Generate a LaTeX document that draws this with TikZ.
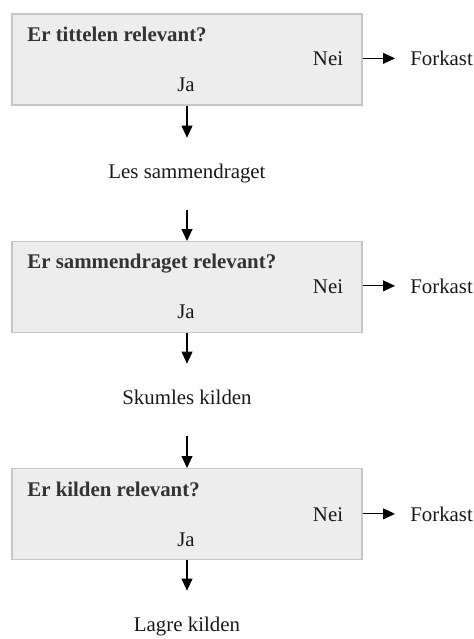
\documentclass[tikz,border=0pt,12pt]{standalone}
\usepackage{fontspec}
\setmainfont{Liberation Serif}
\usepackage{tikz}
\usetikzlibrary{arrows.meta}
\usepackage{xcolor}
\definecolor{boxfill}{HTML}{EDEDED}
\definecolor{boxline}{HTML}{C6C6C6}
\definecolor{titlegray}{HTML}{333333}

\begin{document}
\begin{tikzpicture}[x=0.575pt, y=-0.575pt,
  question/.style={rectangle, draw=boxline, fill=boxfill, line width=0.6pt, minimum width=201.25pt, minimum height=52.3pt, inner sep=0pt},
  qtitle/.style={anchor=base west, inner sep=0pt, text=titlegray, font=\fontsize{12pt}{14pt}\selectfont\bfseries},
  answer/.style={anchor=base, inner sep=0pt, text=black!90, font=\fontsize{12pt}{14pt}\selectfont},
  reject/.style={anchor=base west, inner xsep=8.6pt, inner ysep=0pt, text=black!90, font=\fontsize{12pt}{14pt}\selectfont},
  stepnode/.style={inner xsep=0pt, inner ysep=15.3pt, text height=8.2pt, text depth=2.6pt, text=black!90, font=\fontsize{12pt}{14pt}\selectfont},
  flow/.style={-{Triangle[length=6.9pt, width=6.3pt]}, line width=0.6pt}]
  \useasboundingbox (0, 0) rectangle (473, 639);

  \node[question] (q1) at (187, 59.5) {};
  \node[qtitle] (t1) at (27, 41) {Er tittelen relevant?};
  \node[answer] (nei1) at (328, 65.5) {Nei};
  \node[answer] (ja1) at (186, 91) {Ja};
  \node[reject] (f1) at (395, 65.5) {Forkast};
  \node[stepnode] (s1) at (187, 174) {Les sammendraget};

  \node[question] (q2) at (187, 287) {};
  \node[qtitle] (t2) at (27, 268.5) {Er sammendraget relevant?};
  \node[answer] (nei2) at (328, 293) {Nei};
  \node[answer] (ja2) at (186, 318.5) {Ja};
  \node[reject] (f2) at (395, 293) {Forkast};
  \node[stepnode] (s2) at (187, 400) {Skumles kilden};

  \node[question] (q3) at (187, 514) {};
  \node[qtitle] (t3) at (27, 496) {Er kilden relevant?};
  \node[answer] (nei3) at (328, 521) {Nei};
  \node[answer] (ja3) at (186, 546) {Ja};
  \node[reject] (f3) at (395, 521) {Forkast};
  \node[stepnode] (s3) at (187, 627) {Lagre kilden};

  \draw[flow] (q1.east |- f1.west) -- (f1.west);
  \draw[flow] (q2.east |- f2.west) -- (f2.west);
  \draw[flow] (q3.east |- f3.west) -- (f3.west);
  \draw[flow] (q1.south) -- (s1.north);
  \draw[flow] (s1.south) -- (q2.north);
  \draw[flow] (q2.south) -- (s2.north);
  \draw[flow] (s2.south) -- (q3.north);
  \draw[flow] (q3.south) -- (s3.north);
\end{tikzpicture}
\end{document}
